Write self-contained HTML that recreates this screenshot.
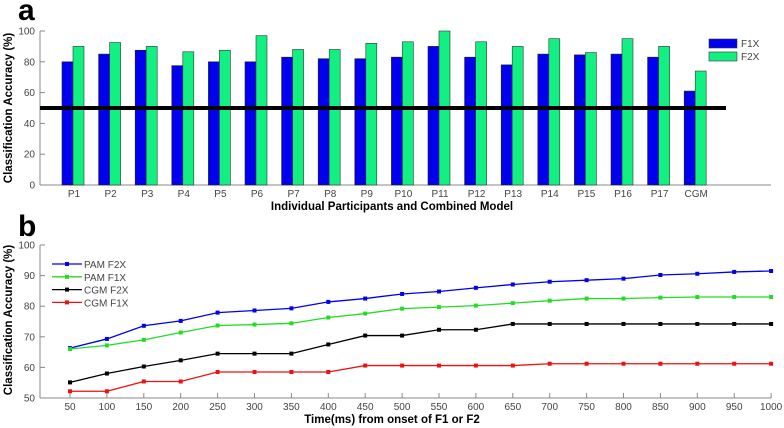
<!DOCTYPE html>
<html><head><meta charset="utf-8"><style>
html,body{margin:0;padding:0;background:#fff;}
svg{display:block;font-family:"Liberation Sans",Arial,sans-serif;}
</style></head><body>
<svg id="fig" width="784" height="428" viewBox="0 0 784 428">
<text x="18" y="20" font-size="30" font-weight="bold">a</text>
<text x="18" y="236" font-size="30" font-weight="bold">b</text>
<g id="ga"></g>
<g id="gb"></g>
</svg>
<script>
const categories=["P1","P2","P3","P4","P5","P6","P7","P8","P9","P10","P11","P12","P13","P14","P15","P16","P17","CGM"];
const f1x=[80,85,87.5,77.5,80,80,83,82,82,83,90,83,78,85,84.5,85,83,61];
const f2x=[90,92.5,90,86.5,87.5,97,88,88,92,93,100,93,90,95,86,95,90,74];
const yTicksA=[0,20,40,60,80,100];
const chance=50;
const times=[50,100,150,200,250,300,350,400,450,500,550,600,650,700,750,800,850,900,950,1000];
const pamF2X=[66.3,69.3,73.6,75.2,77.9,78.6,79.3,81.4,82.5,84,84.8,86,87.1,88,88.5,89,90.2,90.6,91.2,91.5];
const pamF1X=[66,67.2,69,71.4,73.7,74,74.4,76.3,77.6,79.2,79.7,80.2,81,81.8,82.5,82.5,82.8,83,83,83];
const cgmF2X=[55.1,58,60.3,62.3,64.5,64.5,64.5,67.5,70.4,70.4,72.3,72.3,74.2,74.2,74.2,74.2,74.2,74.2,74.2,74.2];
const cgmF1X=[52.2,52.2,55.4,55.4,58.5,58.5,58.5,58.5,60.6,60.6,60.6,60.6,60.6,61.2,61.2,61.2,61.2,61.2,61.2,61.2];
const yTicksB=[50,60,70,80,90,100];
const NS="http://www.w3.org/2000/svg";
function mk(p,t,a,txt){const e=document.createElementNS(NS,t);for(const k in a)e.setAttribute(k,a[k]);if(txt!==undefined)e.textContent=txt;p.appendChild(e);return e;}
// Panel a
const ga=document.getElementById('ga');
const yA=v=>185-v*1.54;
const xA=i=>73+i*36.6;
let e;
e=mk(ga,'line',{x1:40,y1:185,x2:771,y2:185,stroke:'#888','stroke-width':1});

e=mk(ga,'line',{x1:40,y1:yA(100),x2:40,y2:185,stroke:'#888','stroke-width':1});

yTicksA.forEach(v=>{
 mk(ga,'line',{x1:40,y1:yA(v),x2:45,y2:yA(v),stroke:'#888'});
 e=mk(ga,'text',{x:35,y:yA(v)+3.5,'font-size':10,fill:'#444','text-anchor':'end'},v);
 
});
categories.forEach((c,i)=>{
 const cx=xA(i);
 e=mk(ga,'rect',{x:cx-11,y:yA(f1x[i]),width:11,height:185-yA(f1x[i]),fill:'#0000ee',stroke:'#222','stroke-width':0.6});
 
 e=mk(ga,'rect',{x:cx,y:yA(f2x[i]),width:11,height:185-yA(f2x[i]),fill:'#11f080',stroke:'#333','stroke-width':0.6});
 
 e=mk(ga,'text',{x:cx+1,y:197,'font-size':10,fill:'#444','text-anchor':'middle'},c);
 
});
e=mk(ga,'line',{x1:40,y1:yA(chance),x2:726,y2:yA(chance),stroke:'#000','stroke-width':4});

e=mk(ga,'text',{x:392,y:210,'font-size':11.5,'font-weight':'bold','text-anchor':'middle'},'Individual Participants and Combined Model');

e=mk(ga,'text',{x:0,y:0,'font-size':11.5,'font-weight':'bold','text-anchor':'middle',transform:'translate(12,108) rotate(-90)'},'Classification Accuracy (%)');

[['F1X','#0000ee',39],['F2X','#11f080',52]].forEach(([n,c,y])=>{
 e=mk(ga,'rect',{x:709,y:y,width:28,height:9,fill:c,stroke:'#333','stroke-width':0.6});
 
 e=mk(ga,'text',{x:741,y:y+8,'font-size':10,fill:'#444'},n);
 
});
// Panel b
const gb=document.getElementById('gb');
const yB=v=>398-(v-50)*3.06;
const xB=t=>70+(t-50)/50*36.9;
e=mk(gb,'line',{x1:40,y1:398,x2:771,y2:398,stroke:'#888'});

e=mk(gb,'line',{x1:40,y1:yB(100),x2:40,y2:398,stroke:'#888'});

yTicksB.forEach(v=>{
 mk(gb,'line',{x1:40,y1:yB(v),x2:45,y2:yB(v),stroke:'#888'});
 e=mk(gb,'text',{x:35,y:yB(v)+3.5,'font-size':10,fill:'#444','text-anchor':'end'},v);
 
});
times.forEach(t=>{
 mk(gb,'line',{x1:xB(t),y1:393,x2:xB(t),y2:398,stroke:'#888'});
 e=mk(gb,'text',{x:xB(t),y:410,'font-size':10,fill:'#444','text-anchor':'middle'},t);
 
});
const series=[['PAM F2X',pamF2X,'#0000ee'],['PAM F1X',pamF1X,'#22dd22'],['CGM F2X',cgmF2X,'#000'],['CGM F1X',cgmF1X,'#ee1111']];
series.forEach(([n,d,c],k)=>{
 e=mk(gb,'polyline',{points:d.map((v,i)=>xB(times[i])+','+yB(v)).join(' '),fill:'none',stroke:c,'stroke-width':1.3});
 
 d.forEach((v,i)=>{
  e=mk(gb,'rect',{x:xB(times[i])-2,y:yB(v)-2,width:4,height:4,fill:c});
  
 });
 const ly=264+k*12.8;
 mk(gb,'line',{x1:52,y1:ly,x2:82,y2:ly,stroke:c,'stroke-width':1.3});
 mk(gb,'rect',{x:65,y:ly-2,width:4,height:4,fill:c});
 e=mk(gb,'text',{x:84,y:ly+4,'font-size':10,fill:'#444'},n);
 
});
e=mk(gb,'text',{x:392,y:423,'font-size':11.5,'font-weight':'bold','text-anchor':'middle'},'Time(ms) from onset of F1 or F2');

e=mk(gb,'text',{x:0,y:0,'font-size':11.5,'font-weight':'bold','text-anchor':'middle',transform:'translate(12,320) rotate(-90)'},'Classification Accuracy (%)');

</script>
</body></html>
